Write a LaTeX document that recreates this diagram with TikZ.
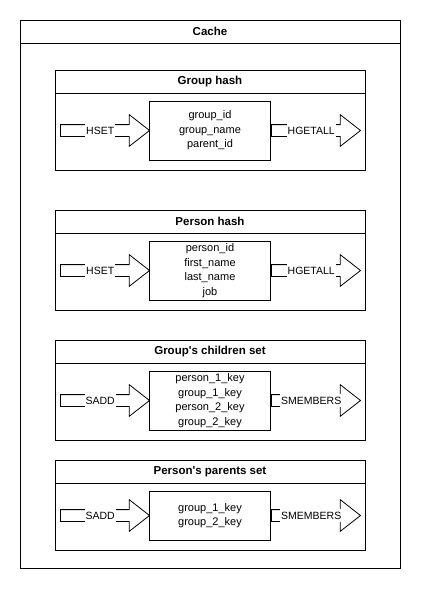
\documentclass[tikz,border=0pt]{standalone}
\usepackage{fontspec}
\setmainfont{Liberation Sans}
\usepackage{tikz}
\usetikzlibrary{shapes.arrows,positioning}

\begin{document}
\begin{tikzpicture}[
    font=\fontsize{11}{14.5}\selectfont,
    frame/.style={rectangle, draw, line width=0.8pt, inner sep=0pt, outer sep=0pt},
    cachebox/.style={frame, minimum width=380pt, minimum height=548pt},
    section/.style={frame, minimum width=310pt},
    header/.style={frame, minimum width=310pt, minimum height=23pt, font=\fontsize{11.5}{14}\selectfont\bfseries},
    fields/.style={frame, minimum width=121pt, align=center},
    blockarrow/.style={single arrow, draw, line width=0.8pt, inner sep=0pt, inner ysep=5.5pt, outer sep=0pt, single arrow head extend=10pt, single arrow tip angle=76, minimum width=0pt, minimum height=89pt},
    op/.style={fill=white, inner xsep=1pt, inner ysep=2.5pt, font=\fontsize{10.5}{12}\selectfont}
]
\useasboundingbox (0,0) rectangle (421pt,-591pt);

\node[cachebox] (cache) at (210pt,-294pt) {};
\node[header, minimum width=380pt, anchor=north] (cachehead) at (cache.north) {Cache};

% Group hash
\node[section, minimum height=100pt, below=27pt of cachehead] (grouphash) {};
\node[header, anchor=north] (grouphead) at (grouphash.north) {Group hash};
\node[fields, minimum height=59pt, below=8pt of grouphead] (groupfields) {group\_id\\group\_name\\parent\_id};
\node[blockarrow, anchor=tip] (groupset) at (groupfields.west) {};
\node[blockarrow, anchor=tail] (groupget) at ([xshift=1pt]groupfields.east) {};
\node[op] (groupsetop) at ([xshift=-1pt]groupset.center) {HSET};
\node[op] (groupgetop) at ([xshift=-1pt]groupget.center) {HGETALL};

% Person hash
\node[section, minimum height=100pt, below=40pt of grouphash] (personhash) {};
\node[header, anchor=north] (personhead) at (personhash.north) {Person hash};
\node[fields, minimum height=59pt, below=8pt of personhead] (personfields) {person\_id\\first\_name\\last\_name\\job};
\node[blockarrow, anchor=tip] (personset) at (personfields.west) {};
\node[blockarrow, anchor=tail] (personget) at ([xshift=1pt]personfields.east) {};
\node[op] (personsetop) at ([xshift=-1pt]personset.center) {HSET};
\node[op] (persongetop) at ([xshift=-1pt]personget.center) {HGETALL};

% Group's children set
\node[section, minimum height=100pt, below=30pt of personhash] (childset) {};
\node[header, anchor=north] (childhead) at (childset.north) {Group\textquotesingle s children set};
\node[fields, minimum height=59pt, below=8pt of childhead] (childkeys) {person\_1\_key\\group\_1\_key\\person\_2\_key\\group\_2\_key};
\node[blockarrow, anchor=tip] (childadd) at (childkeys.west) {};
\node[blockarrow, anchor=tail] (childget) at ([xshift=1pt]childkeys.east) {};
\node[op] (childaddop) at ([xshift=-1pt]childadd.center) {SADD};
\node[op] (childgetop) at ([xshift=-1pt]childget.center) {SMEMBERS};

% Person's parents set
\node[section, minimum height=90pt, below=20pt of childset] (parentset) {};
\node[header, anchor=north] (parenthead) at (parentset.north) {Person\textquotesingle s parents set};
\node[fields, minimum height=49pt, below=8pt of parenthead] (parentkeys) {group\_1\_key\\group\_2\_key};
\node[blockarrow, anchor=tip] (parentadd) at (parentkeys.west) {};
\node[blockarrow, anchor=tail] (parentget) at ([xshift=1pt]parentkeys.east) {};
\node[op] (parentaddop) at ([xshift=-1pt]parentadd.center) {SADD};
\node[op] (parentgetop) at ([xshift=-1pt]parentget.center) {SMEMBERS};

\end{tikzpicture}
\end{document}
